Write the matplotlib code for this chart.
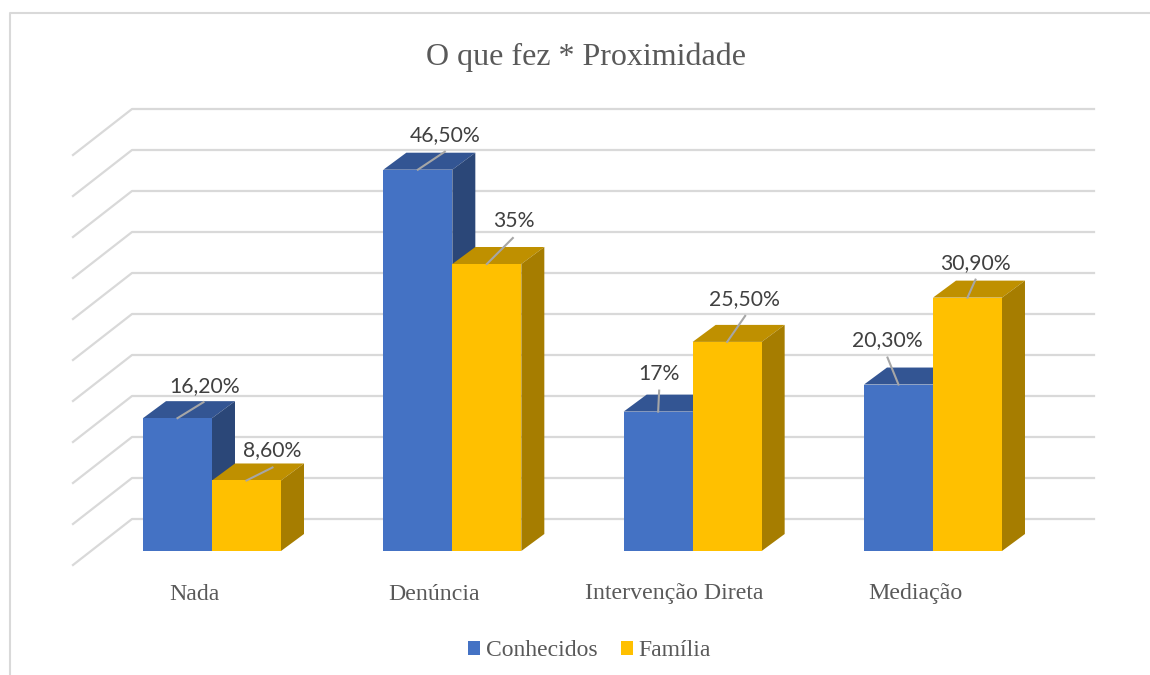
import matplotlib
matplotlib.use('Agg')
import matplotlib.pyplot as plt
from matplotlib.patches import Polygon, Patch

categorias = ['Nada', 'Denúncia', 'Intervenção Direta', 'Mediação']
conhecidos = [16.2, 46.5, 17, 20.3]
familia = [8.6, 35, 25.5, 30.9]
rotulos_conhecidos = ['16,20%', '46,50%', '17%', '20,30%']
rotulos_familia = ['8,60%', '35%', '25,50%', '30,90%']
grade = [0, 5, 10, 15, 20, 25, 30, 35, 40, 45, 50]

# escala: pixels por unidade em cada eixo
PX_X = 240.33
PX_Y = 8.2
X0 = 212.0
Y0 = 551.0
LARG = 69 / PX_X


def px(x, y):
    return (x - X0) / PX_X, (Y0 - y) / PX_Y


def dx(p):
    return p / PX_X


def dy(p):
    return p / PX_Y


fig = plt.figure(figsize=(11.5, 6.75), dpi=100)
ax = fig.add_axes([0, 0, 1, 1])
ax.set_xlim(px(0, 0)[0], px(1150, 0)[0])
ax.set_ylim(px(0, 675)[1], px(0, 0)[1])
ax.axis('off')

# moldura do grafico
ax.plot(*zip(px(9.5, 675), px(9.5, 13), px(1150, 13)), color='#D9D9D9', lw=1.5)

# grade com a parede lateral
x_esq, _ = px(73, 0)
x_meio, _ = px(132, 0)
x_dir, _ = px(1094, 0)
for v in grade:
    y_fundo = v + dy(32)
    y_frente = v - dy(14)
    ax.plot([x_esq, x_meio, x_dir], [y_frente, y_fundo, y_fundo], color='#D9D9D9', lw=1.6, zorder=1)


def barra(x, v, frente, topo, lado, z):
    d_x = dx(23)
    d_y = dy(17)
    ax.add_patch(Polygon([(x, v), (x + LARG, v), (x + LARG + d_x, v + d_y), (x + d_x, v + d_y)],
                         fc=topo, ec='none', zorder=z))
    ax.add_patch(Polygon([(x + LARG, 0), (x + LARG + d_x, d_y), (x + LARG + d_x, v + d_y), (x + LARG, v)],
                         fc=lado, ec='none', zorder=z))
    ax.add_patch(Polygon([(x, 0), (x + LARG, 0), (x + LARG, v), (x, v)],
                         fc=frente, ec='none', zorder=z + 0.1))


for i in range(len(categorias)):
    barra(i - LARG, conhecidos[i], '#4472C4', '#335593', '#2B4778', 2 + i)
    barra(i, familia[i], '#FFC000', '#BF9000', '#A67D00', 2.5 + i)

# rotulos: deslocamento do texto e fim da linha, em pixels
desl_c = [((27, 32), (26, 16)), ((27, 35), (27, 18)), ((1, 38), (1, 21)), ((-11, 44), (-11, 27))]
desl_f = [((26, 30), (26, 13)), ((27, 43), (26, 26)), ((17, 43), (18, 26)), ((8, 35), (8, 18))]
for i in range(len(categorias)):
    for x, v, txt, (t, f) in [(i - LARG / 2, conhecidos[i], rotulos_conhecidos[i], desl_c[i]),
                              (i + LARG / 2, familia[i], rotulos_familia[i], desl_f[i])]:
        ax.plot([x, x + dx(f[0])], [v, v + dy(f[1])], color='#A6A6A6', lw=1.5, zorder=20)
        ax.text(x + dx(t[0]), v + dy(t[1]), txt, ha='center', va='center', fontsize=15.2,
                family='Lato', color='#404040', zorder=21)

    ax.text(i - dx(18), px(0, 594)[1], categorias[i], ha='center', va='center',
            fontsize=17.2, family='Liberation Serif', color='#595959')

ax.text(px(585.5, 0)[0], px(0, 57)[1], 'O que fez * Proximidade', ha='center', va='center',
        fontsize=23, family='Liberation Serif', color='#595959')

ax.legend(handles=[Patch(fc='#4472C4', label='Conhecidos'), Patch(fc='#FFC000', label='Família')],
          ncol=2, loc='center', bbox_to_anchor=(589.5 / 1150, 1 - 651 / 675), frameon=False,
          prop={'family': 'Liberation Serif', 'size': 17}, labelcolor='#595959',
          handlelength=0.51, handleheight=0.51, handletextpad=0.25, columnspacing=0.97)

fig.savefig('out.png', dpi=100)
